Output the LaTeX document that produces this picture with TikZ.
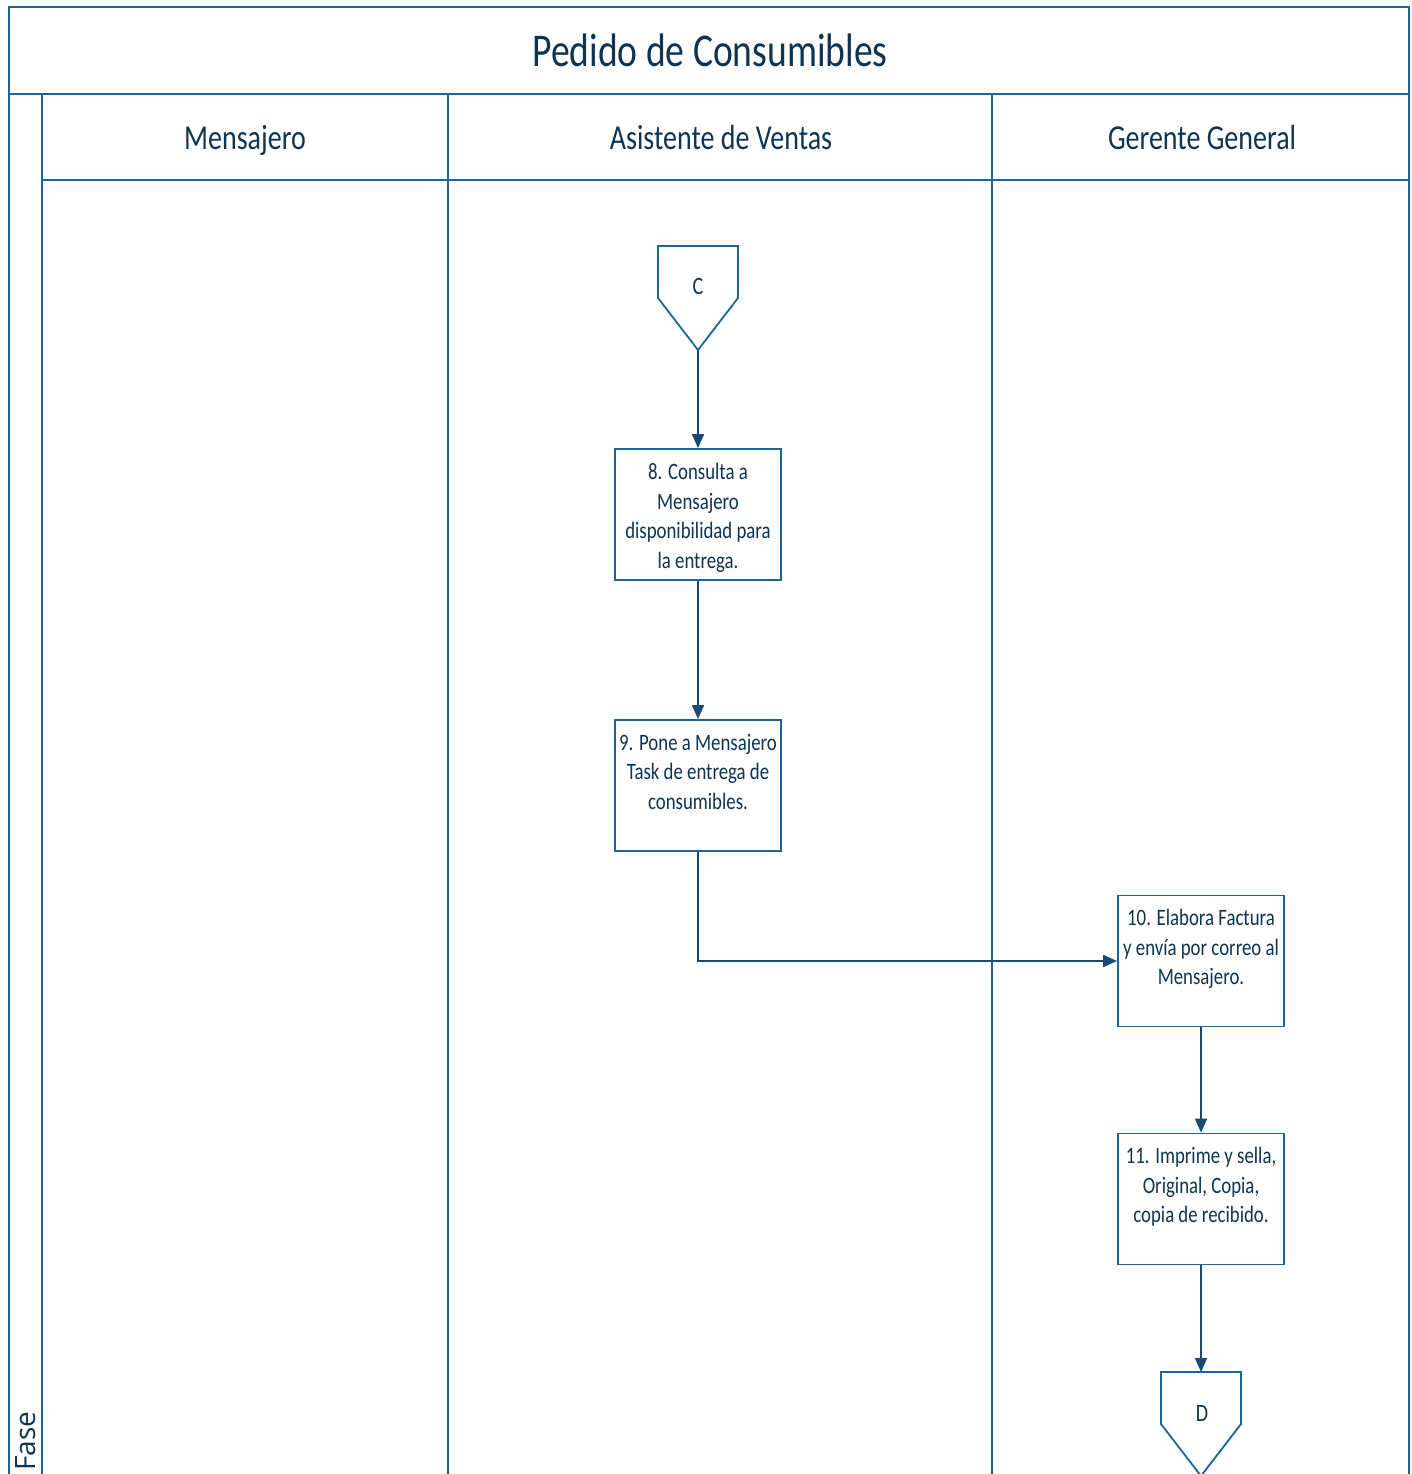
\documentclass[tikz,border=0pt]{standalone}
\usepackage{fontspec}
\setmainfont{Carlito}
\newfontfamily\condfont[FakeStretch=0.8]{Carlito}
\newfontfamily\fasefont{Open Sans}
\usetikzlibrary{arrows.meta}
\definecolor{lane}{HTML}{1F6496}
\definecolor{ink}{HTML}{0F3452}
\definecolor{flow}{HTML}{174B75}

\begin{document}
\begin{tikzpicture}[x=1pt,y=-1pt,
  frame/.style={draw=lane,line width=2.6pt},
  stepbox/.style={draw=lane,line width=1.8pt,fill=white,minimum width=166pt,minimum height=131pt,inner sep=0pt},
  steptext/.style={text=ink,font=\condfont\fontsize{23.5}{29.5}\selectfont,align=center,inner sep=0pt,anchor=north},
  lanehead/.style={text=ink,font=\condfont\fontsize{35}{40}\selectfont,inner sep=0pt,anchor=base},
  offpage/.style={draw=lane,line width=1.8pt,fill=white},
  flowline/.style={draw=flow,line width=1.8pt,-{Triangle[length=14pt,width=12pt]}},
]
\useasboundingbox (0,0) rectangle (1411,1474);

% swimlane frame
\draw[frame] (9,1474) -- (9,7) -- (1409,7) -- (1409,1474);
\draw[frame] (9,94) -- (1409,94);
\draw[frame] (42,94) -- (42,1474);
\draw[frame] (42,180) -- (1409,180);
\draw[frame] (448,94) -- (448,1474);
\draw[frame] (992,94) -- (992,1474);

% titles
\node[text=ink,font=\condfont\fontsize{47}{52}\selectfont,inner sep=0pt,anchor=base] (title) at (710,67) {Pedido de Consumibles};
\node[lanehead] (h1) at (245,150) {Mensajero};
\node[lanehead] (h2) at (721,150) {Asistente de Ventas};
\node[lanehead] (h3) at (1202,150) {Gerente General};
\node[text=ink,font=\fasefont\fontsize{28}{32}\selectfont,rotate=90,anchor=base west,inner sep=0pt] (fase) at (35,1471) {Fase};

% off-page connector C
\draw[offpage] (658,246) -- (738,246) -- (738,298) -- (698,350) -- (658,298) -- cycle;
\node[text=ink,font=\condfont\fontsize{25}{28}\selectfont,inner sep=0pt,anchor=base] (C) at (698,294) {C};
\coordinate (Ctip) at (698,350);

% steps
\node[stepbox] (b8) at (698,514.5) {};
\node[steptext] (t8) at (698,463) {8. Consulta a\\Mensajero\\disponibilidad para\\la entrega.};
\node[stepbox] (b9) at (698,785.5) {};
\node[steptext] (t9) at (698,734) {9. Pone a Mensajero\\Task de entrega de\\consumibles.};
\node[stepbox] (b10) at (1201,961) {};
\node[steptext] (t10) at (1201,909) {10. Elabora Factura\\y envía por correo al\\Mensajero.};
\node[stepbox] (b11) at (1201,1199) {};
\node[steptext] (t11) at (1201,1147) {11. Imprime y sella,\\Original, Copia,\\copia de recibido.};

% off-page connector D
\draw[offpage] (1161,1372) -- (1241,1372) -- (1241,1424) -- (1201,1476) -- (1161,1424) -- cycle;
\node[text=ink,font=\condfont\fontsize{25}{28}\selectfont,inner sep=0pt,anchor=base] (D) at (1202,1421) {D};
\coordinate (Dtop) at (1201,1372);

% flow
\draw[flowline] (Ctip) -- (b8.north);
\draw[flowline] (b8.south) -- (b9.north);
\draw[flowline] (b9.south) |- (b10.west);
\draw[flowline] (b10.south) -- (b11.north);
\draw[flowline] (b11.south) -- (Dtop);
\end{tikzpicture}
\end{document}
